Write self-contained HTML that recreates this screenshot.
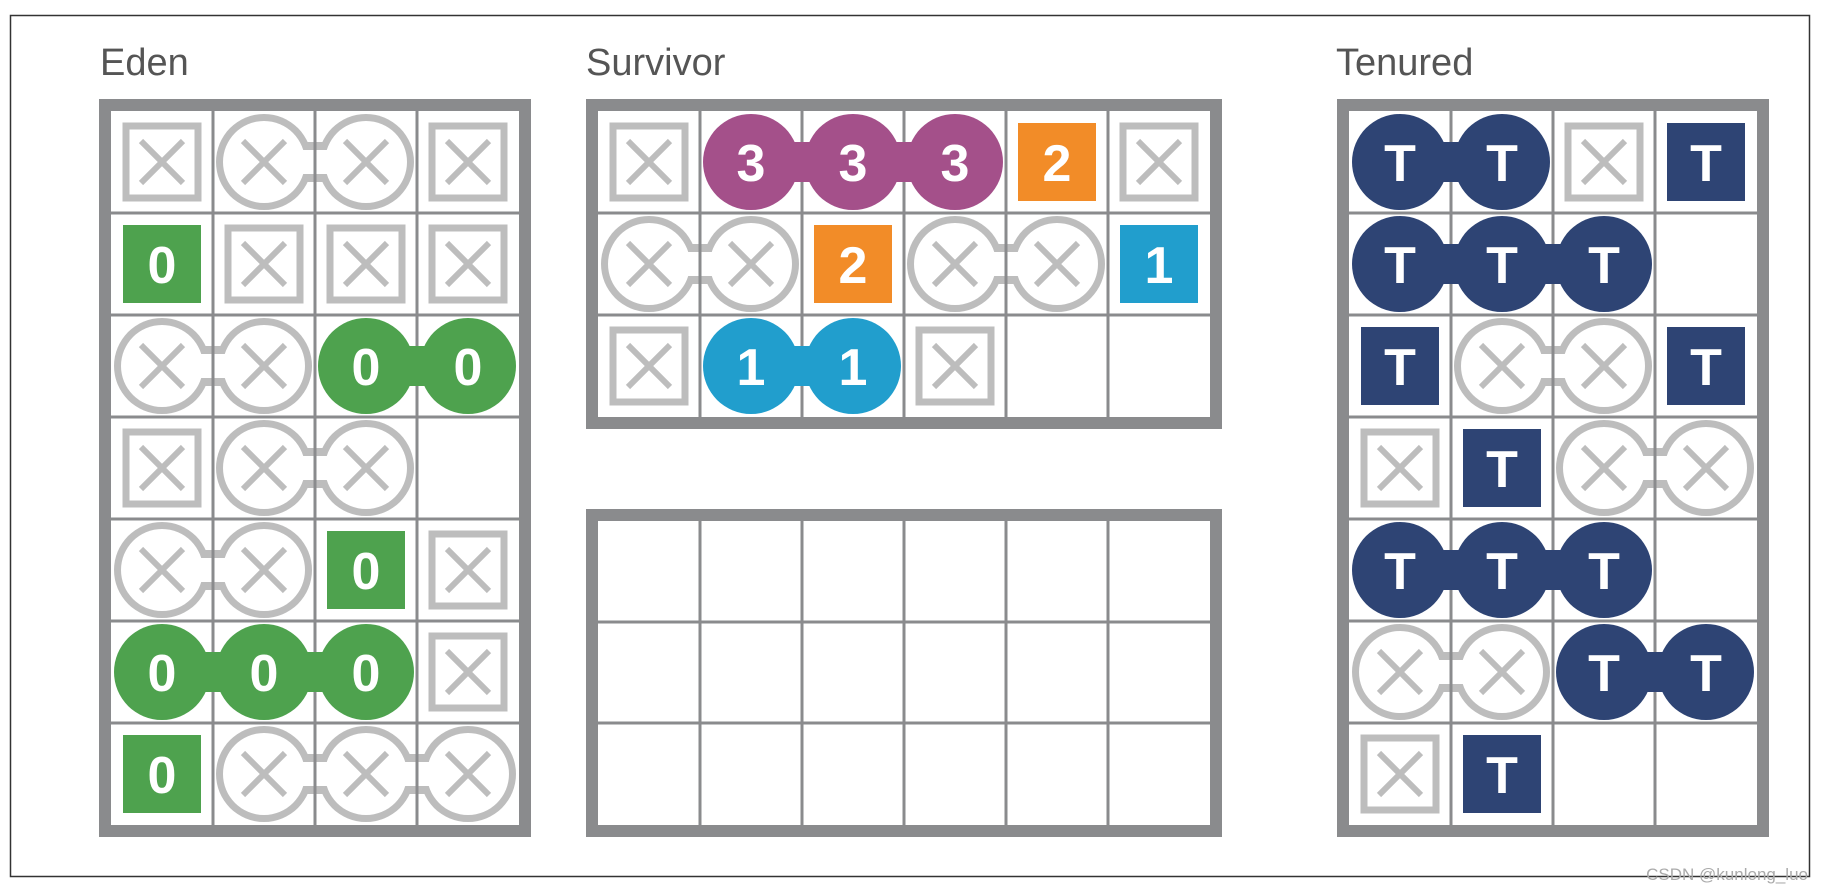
<!DOCTYPE html>
<html><head><meta charset="utf-8"><style>
html,body{margin:0;padding:0;background:#fff;}
svg{display:block;}
</style></head><body>
<svg width="1830" height="893" viewBox="0 0 1830 893" xmlns="http://www.w3.org/2000/svg">
<defs>
<g id="xx"><path d="M-21-21L21 21M21-21L-21 21" stroke="#bdbdbd" stroke-width="6" fill="none"/></g>
<g id="xs"><rect x="-36" y="-36" width="72" height="72" fill="none" stroke="#bdbdbd" stroke-width="7"/><use href="#xx"/></g>
<g id="xp2"><g fill="#bdbdbd"><circle r="48"/><circle cx="102" r="48"/><rect y="-20" width="102" height="40"/></g><g fill="#fff"><circle r="41"/><circle cx="102" r="41"/><rect y="-12" width="102" height="24"/></g><use href="#xx"/><use href="#xx" x="102"/></g>
<g id="xp3"><g fill="#bdbdbd"><circle r="48"/><circle cx="102" r="48"/><circle cx="204" r="48"/><rect y="-20" width="204" height="40"/></g><g fill="#fff"><circle r="41"/><circle cx="102" r="41"/><circle cx="204" r="41"/><rect y="-12" width="204" height="24"/></g><use href="#xx"/><use href="#xx" x="102"/><use href="#xx" x="204"/></g>
<g id="cp2"><circle r="48"/><circle cx="102" r="48"/><rect y="-20" width="102" height="40"/></g>
<g id="cp3"><circle r="48"/><circle cx="102" r="48"/><circle cx="204" r="48"/><rect y="-20" width="204" height="40"/></g>
<g id="sq"><rect x="-39" y="-39" width="78" height="78"/></g>
</defs>
<rect x="10.5" y="15.5" width="1799" height="861" fill="none" stroke="#333" stroke-width="1.5"/>
<g font-family="Liberation Sans, sans-serif" font-size="38" fill="#555">
<text x="100" y="75">Eden</text>
<text x="586" y="75">Survivor</text>
<text x="1336" y="75">Tenured</text>
</g>
<text x="1808" y="880" text-anchor="end" font-family="Liberation Sans, sans-serif" font-size="17" fill="#aaa">CSDN @kunlong_luo</text>

<!-- EDEN -->
<g transform="translate(111,111)">
<rect x="0" y="0" width="408" height="714" fill="#fff"/>
<use href="#xs" x="51" y="51"/><use href="#xp2" x="153" y="51"/><use href="#xs" x="357" y="51"/>
<use href="#xs" x="153" y="153"/><use href="#xs" x="255" y="153"/><use href="#xs" x="357" y="153"/>
<use href="#xp2" x="51" y="255"/>
<use href="#xs" x="51" y="357"/><use href="#xp2" x="153" y="357"/>
<use href="#xp2" x="51" y="459"/><use href="#xs" x="357" y="459"/>
<use href="#xs" x="357" y="561"/>
<use href="#xp3" x="153" y="663"/>
<g stroke="#8a8b8d" stroke-width="3"><path d="M102 0V714M204 0V714M306 0V714M0 102H408M0 204H408M0 306H408M0 408H408M0 510H408M0 612H408"/></g>
<rect x="-6" y="-6" width="420" height="726" fill="none" stroke="#8a8b8d" stroke-width="12"/>
<g fill="#4ea24e">
<use href="#sq" x="51" y="153"/><use href="#cp2" x="255" y="255"/><use href="#sq" x="255" y="459"/><use href="#cp3" x="51" y="561"/><use href="#sq" x="51" y="663"/>
</g>
<g font-family="Liberation Sans, sans-serif" font-weight="bold" font-size="52" fill="#fff" text-anchor="middle">
<text x="51" y="172">0</text><text x="255" y="274">0</text><text x="357" y="274">0</text><text x="255" y="478">0</text>
<text x="51" y="580">0</text><text x="153" y="580">0</text><text x="255" y="580">0</text><text x="51" y="682">0</text>
</g>
</g>

<!-- SURVIVOR TOP -->
<g transform="translate(598,111)">
<rect width="612" height="306" fill="#fff"/>
<use href="#xs" x="51" y="51"/><use href="#xs" x="561" y="51"/>
<use href="#xp2" x="51" y="153"/><use href="#xp2" x="357" y="153"/>
<use href="#xs" x="51" y="255"/><use href="#xs" x="357" y="255"/>
<g stroke="#8a8b8d" stroke-width="3"><path d="M102 0V306M204 0V306M306 0V306M408 0V306M510 0V306M0 102H612M0 204H612"/></g>
<rect x="-6" y="-6" width="624" height="318" fill="none" stroke="#8a8b8d" stroke-width="12"/>
<use href="#cp3" x="153" y="51" fill="#a4508a"/>
<use href="#sq" x="459" y="51" fill="#f28c28"/>
<use href="#sq" x="255" y="153" fill="#f28c28"/>
<use href="#sq" x="561" y="153" fill="#219ecd"/>
<use href="#cp2" x="153" y="255" fill="#219ecd"/>
<g font-family="Liberation Sans, sans-serif" font-weight="bold" font-size="52" fill="#fff" text-anchor="middle">
<text x="153" y="70">3</text><text x="255" y="70">3</text><text x="357" y="70">3</text><text x="459" y="70">2</text>
<text x="255" y="172">2</text><text x="561" y="172">1</text>
<text x="153" y="274">1</text><text x="255" y="274">1</text>
</g>
</g>

<!-- SURVIVOR BOTTOM -->
<g transform="translate(598,521)">
<rect width="612" height="304" fill="#fff"/>
<g stroke="#8a8b8d" stroke-width="3"><path d="M102 0V304M204 0V304M306 0V304M408 0V304M510 0V304M0 101H612M0 202H612"/></g>
<rect x="-6" y="-6" width="624" height="316" fill="none" stroke="#8a8b8d" stroke-width="12"/>
</g>

<!-- TENURED -->
<g transform="translate(1349,111)">
<rect width="408" height="714" fill="#fff"/>
<use href="#xs" x="255" y="51"/>
<use href="#xp2" x="153" y="255"/>
<use href="#xs" x="51" y="357"/><use href="#xp2" x="255" y="357"/>
<use href="#xp2" x="51" y="561"/>
<use href="#xs" x="51" y="663"/>
<g stroke="#8a8b8d" stroke-width="3"><path d="M102 0V714M204 0V714M306 0V714M0 102H408M0 204H408M0 306H408M0 408H408M0 510H408M0 612H408"/></g>
<rect x="-6" y="-6" width="420" height="726" fill="none" stroke="#8a8b8d" stroke-width="12"/>
<g fill="#2e4474">
<use href="#cp2" x="51" y="51"/><use href="#sq" x="357" y="51"/>
<use href="#cp3" x="51" y="153"/>
<use href="#sq" x="51" y="255"/><use href="#sq" x="357" y="255"/>
<use href="#sq" x="153" y="357"/>
<use href="#cp3" x="51" y="459"/>
<use href="#cp2" x="255" y="561"/>
<use href="#sq" x="153" y="663"/>
</g>
<g font-family="Liberation Sans, sans-serif" font-weight="bold" font-size="52" fill="#fff" text-anchor="middle">
<text x="51" y="70">T</text><text x="153" y="70">T</text><text x="357" y="70">T</text>
<text x="51" y="172">T</text><text x="153" y="172">T</text><text x="255" y="172">T</text>
<text x="51" y="274">T</text><text x="357" y="274">T</text>
<text x="153" y="376">T</text>
<text x="51" y="478">T</text><text x="153" y="478">T</text><text x="255" y="478">T</text>
<text x="255" y="580">T</text><text x="357" y="580">T</text>
<text x="153" y="682">T</text>
</g>
</g>
</svg>
</body></html>
